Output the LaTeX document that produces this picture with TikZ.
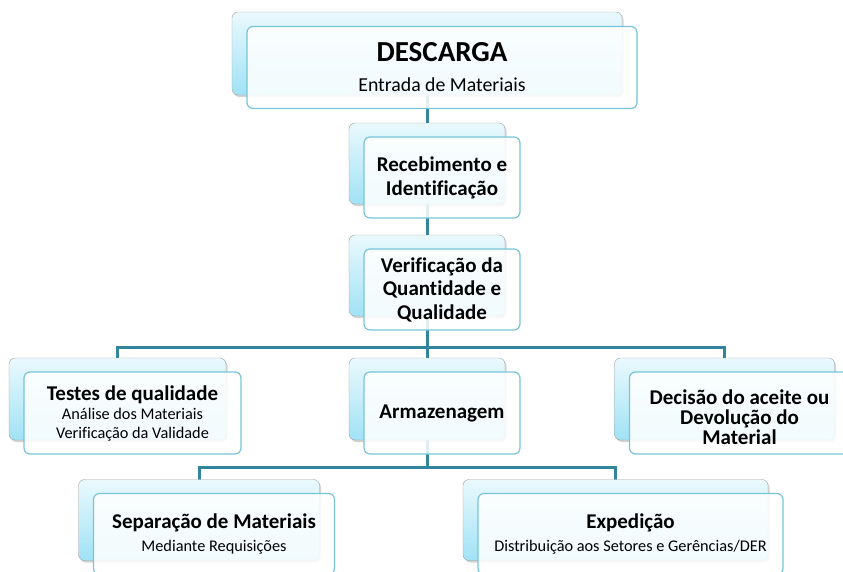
\documentclass[tikz,border=0pt]{standalone}
\usepackage{fontspec}
\setmainfont{Carlito}[Ligatures=NoCommon]
\definecolor{flow_line}{RGB}{49, 133, 156}
\definecolor{flow_edge}{RGB}{120, 196, 216}
\definecolor{flow_top}{RGB}{234, 249, 253}
\definecolor{flow_bot}{RGB}{160, 226, 245}
\usetikzlibrary{positioning, shadows, calc, backgrounds}

\tikzset{
  backbox/.style={rectangle, rounded corners=6pt, draw=gray!75, top color=flow_top, bottom color=flow_bot,
    drop shadow={shadow xshift=1.5pt, shadow yshift=-2pt, opacity=.35}, inner sep=0pt},
  frontbox/.style={rectangle, rounded corners=6pt, draw=flow_edge, line width=1.2pt, fill=white,
    fill opacity=.86, text opacity=1, align=center, inner sep=0pt, font=\fontsize{21}{24}\selectfont\bfseries},
  link/.style={draw=flow_line, line width=3pt},
}
\newcommand{\subline}[1]{{\fontsize{16.3}{19}\selectfont\mdseries #1}}

\begin{document}
\begin{tikzpicture}[x=1pt, y=-1pt]
  \useasboundingbox (0,0) rectangle (843,571);

  % Descarga
  \node[backbox, minimum width=390pt, minimum height=83pt] (descB) at (427,53.5) {};
  \node[frontbox, minimum width=390pt, minimum height=82pt] (desc) at ($(descB)+(15,14)$)
    {{\fontsize{29}{32}\selectfont DESCARGA}\\[6pt]{\fontsize{19.8}{22}\selectfont\mdseries Entrada de Materiais}};

  % Recebimento
  \node[backbox, minimum width=156pt, minimum height=81pt] (recB) at (427,163.5) {};
  \node[frontbox, minimum width=156pt, minimum height=81pt] (rec) at ($(recB)+(15,14)$)
    {Recebimento e\\Identificação};

  % Verificacao
  \node[backbox, minimum width=156pt, minimum height=81pt] (verB) at (427,275.5) {};
  \node[frontbox, minimum width=156pt, minimum height=81pt] (ver) at ($(verB)+(15,14)$)
    {Verificação da\\[-0.5pt]Quantidade e\\[-0.5pt]Qualidade};

  % Testes de qualidade
  \node[backbox, minimum width=217pt, minimum height=82pt] (testB) at (117.5,399) {};
  \node[frontbox, minimum width=217pt, minimum height=82pt] (test) at ($(testB)+(15,14)$)
    {Testes de qualidade\\[-5pt]\subline{Análise dos Materiais}\\[-5pt]\subline{Verificação da Validade}};

  % Armazenagem
  \node[backbox, minimum width=156pt, minimum height=82pt] (armB) at (427,399) {};
  \node[frontbox, minimum width=156pt, minimum height=82pt] (arm) at ($(armB)+(15,14)$)
    {Armazenagem};

  % Decisao
  \node[backbox, minimum width=220pt, minimum height=82pt] (decB) at (724.5,399) {};
  \node[frontbox, minimum width=220pt, minimum height=82pt] (dec) at ($(decB)+(15,14)$)
    {\\[-1pt]Decisão do aceite ou\\[-4pt]Devolução do\\[-4pt]Material};

  % Separacao
  \node[backbox, minimum width=241pt, minimum height=81pt] (sepB) at (199,520) {};
  \node[frontbox, minimum width=241pt, minimum height=81pt] (sep) at ($(sepB)+(15,14)$)
    {Separação de Materiais\\[-1pt]\subline{Mediante Requisições}};

  % Expedicao
  \node[backbox, minimum width=305pt, minimum height=81pt] (expB) at (615.5,520) {};
  \node[frontbox, minimum width=305pt, minimum height=81pt] (exp) at ($(expB)+(15,14)$)
    {Expedição\\[-1pt]\subline{Distribuição aos Setores e Gerências/DER}};

  % Connectors
  \coordinate (busA) at (427,347);
  \coordinate (busB) at (427,467);
  \begin{scope}[on background layer]
    \draw[link] (descB.center) -- (armB.center);
    \draw[link] (testB.center) |- (busA) -| (decB.center);
    \draw[link] (armB.center) -- (busB);
    \draw[link] (sepB.center) |- (busB) -| (expB.center);
  \end{scope}
\end{tikzpicture}
\end{document}
